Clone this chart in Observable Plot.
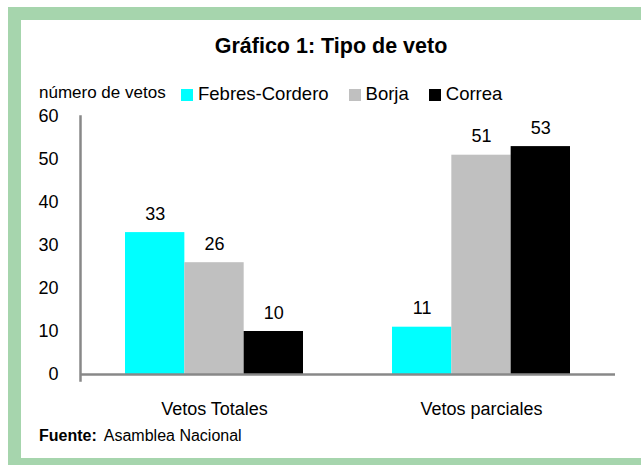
<!DOCTYPE html>
<html>
<head>
<meta charset="utf-8">
<script src="https://cdn.jsdelivr.net/npm/d3@7"></script>
<script src="https://cdn.jsdelivr.net/npm/@observablehq/plot@0.6"></script>
<style>
  html, body { margin: 0; padding: 0; background: #ffffff; }
  body { width: 641px; height: 465px; position: relative; overflow: hidden; font-family: "Liberation Sans", Arial, sans-serif; color: #000; }
  #frame { position: absolute; left: 8px; top: 7px; width: 800px; height: 464px; box-sizing: border-box; border: 13px solid #a6d5ad; }
  #title { position: absolute; left: 21px; width: 620px; top: 33px; text-align: center; font-weight: bold; font-size: 21.5px; line-height: 26px; }
  #ylabel { position: absolute; left: 39px; top: 83px; font-size: 17px; line-height: 20px; }
  #legend { position: absolute; left: 181px; top: 83px; display: flex; align-items: center; font-size: 18.5px; line-height: 22px; }
  .item { display: flex; align-items: center; margin-right: 20px; }
  .sw { width: 12px; height: 12px; margin-right: 5px; margin-top: 1px; }
  #chart { position: absolute; left: 0; top: 100px; }
  #caption { position: absolute; left: 39px; top: 426px; font-size: 16px; line-height: 20px; }
  #caption b { margin-right: 7px; }
</style>
</head>
<body>
<div id="frame"></div>
<div id="title">Gráfico 1: Tipo de veto</div>
<div id="ylabel">número de vetos</div>
<div id="legend"></div>
<div id="chart"></div>
<div id="caption"><b>Fuente:</b>Asamblea Nacional</div>
<script>
const categories = ["Vetos Totales", "Vetos parciales"];
const series = ["Febres-Cordero", "Borja", "Correa"];
const febresCordero = [33, 11];
const borja = [26, 51];
const correa = [10, 53];
const colors = ["#00ffff", "#c0c0c0", "#000000"];
const yTicks = [0, 10, 20, 30, 40, 50, 60];

const valuesBySeries = [febresCordero, borja, correa];
const data = series.flatMap((s, i) =>
  categories.map((c, j) => ({category: c, series: s, value: valuesBySeries[i][j]}))
);

const W = 641, H = 330, mL = 80, mR = 26, mT = 16, mB = 56;
const pInner = 0.335, pOuter = 0.167;
const bandwidth = (W - mL - mR) * (1 - pInner) / (categories.length - pInner + 2 * pOuter);
const sub = bandwidth / series.length;

const marks = [];
series.forEach((s, i) => {
  const d = data.filter(r => r.series === s);
  marks.push(Plot.barY(d, {
    x: "category", y: "value", fill: "series",
    insetLeft: i * sub, insetRight: (series.length - 1 - i) * sub
  }));
  marks.push(Plot.text(d, {
    x: "category", y: "value", text: r => String(r.value),
    dx: (i - (series.length - 1) / 2) * sub, dy: -13, lineAnchor: "bottom", fill: "#000"
  }));
});

const plot = Plot.plot({
  width: W, height: H,
  marginLeft: mL, marginRight: mR, marginTop: mT, marginBottom: mB,
  style: {fontFamily: "'Liberation Sans', Arial, sans-serif", fontSize: "18px", color: "#000", background: "transparent"},
  x: {domain: categories, paddingInner: pInner, paddingOuter: pOuter, axis: null},
  y: {domain: [0, 60], axis: null},
  color: {domain: series, range: colors},
  marks: [
    ...marks,
    Plot.axisY({ticks: yTicks, tickSize: 0, tickPadding: 22, label: null}),
    Plot.axisX({tickSize: 0, tickPadding: 28, label: null}),
    Plot.frame({anchor: "left", stroke: "#888888", strokeWidth: 2.5, insetBottom: -6}),
    Plot.ruleY([0], {stroke: "#888888", strokeWidth: 2.5})
  ]
});
document.getElementById("chart").appendChild(plot);

const legend = document.getElementById("legend");
series.forEach((s, i) => {
  const item = document.createElement("div");
  item.className = "item";
  const sw = document.createElement("div");
  sw.className = "sw";
  sw.style.background = colors[i];
  const label = document.createElement("span");
  label.textContent = s;
  item.appendChild(sw);
  item.appendChild(label);
  legend.appendChild(item);
});
</script>
</body>
</html>
